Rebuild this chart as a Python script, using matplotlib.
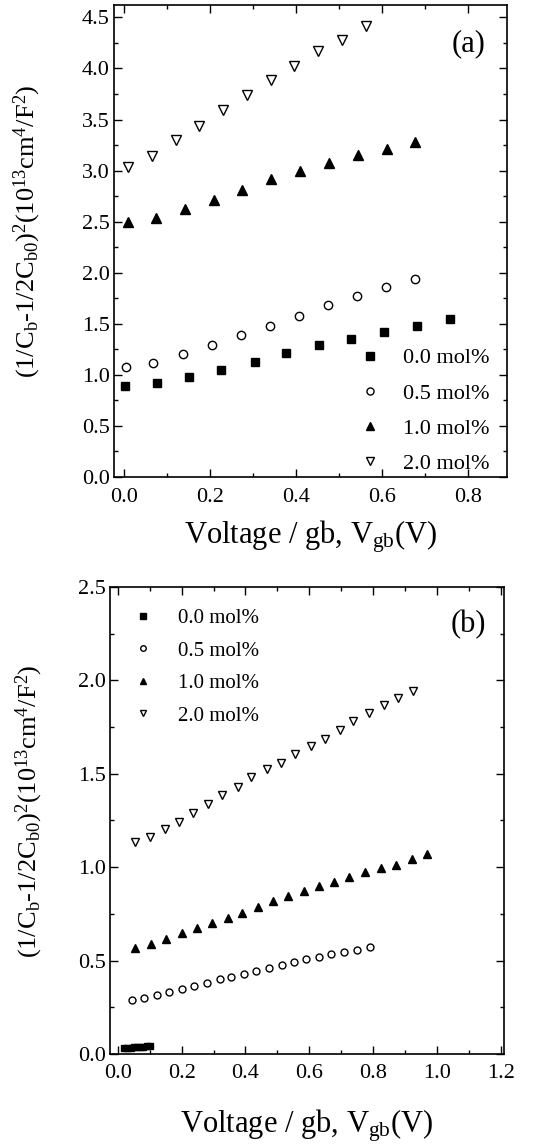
import matplotlib
matplotlib.use("Agg")
import matplotlib.pyplot as plt
from matplotlib.ticker import MultipleLocator

plt.rcParams['font.family'] = ['Liberation Serif', 'DejaVu Serif']
plt.rcParams['mathtext.fontset'] = 'custom'
plt.rcParams['mathtext.rm'] = 'Liberation Serif'
plt.rcParams['mathtext.it'] = 'Liberation Serif:italic'

labels = ['0.0 mol%', '0.5 mol%', '1.0 mol%', '2.0 mol%']

# Panel (a)
a_x0 = [0.003, 0.078, 0.152, 0.226, 0.304, 0.377, 0.454, 0.528, 0.605, 0.681, 0.757]
a_y0 = [0.89, 0.92, 0.98, 1.05, 1.13, 1.21, 1.29, 1.35, 1.42, 1.48, 1.55]
a_x05 = [0.004, 0.068, 0.137, 0.205, 0.271, 0.340, 0.407, 0.475, 0.541, 0.609, 0.677]
a_y05 = [1.08, 1.12, 1.20, 1.29, 1.39, 1.48, 1.58, 1.68, 1.77, 1.86, 1.94]
a_x1 = [0.009, 0.074, 0.142, 0.209, 0.275, 0.342, 0.409, 0.476, 0.543, 0.611, 0.677]
a_y1 = [2.50, 2.54, 2.62, 2.71, 2.81, 2.92, 3.00, 3.07, 3.15, 3.21, 3.28]
a_x2 = [0.009, 0.065, 0.120, 0.175, 0.230, 0.286, 0.342, 0.396, 0.452, 0.506, 0.563]
a_y2 = [3.04, 3.14, 3.30, 3.44, 3.59, 3.74, 3.89, 4.02, 4.17, 4.28, 4.42]

# Panel (b)
b_x0 = [0.020, 0.030, 0.040, 0.050, 0.060, 0.070, 0.080, 0.090, 0.100]
b_y0 = [0.030, 0.032, 0.034, 0.036, 0.037, 0.039, 0.040, 0.042, 0.044]
b_x05 = [0.044, 0.083, 0.122, 0.161, 0.200, 0.240, 0.279, 0.319, 0.356, 0.396,
         0.434, 0.474, 0.513, 0.552, 0.591, 0.630, 0.669, 0.710, 0.750, 0.792]
b_y05 = [0.287, 0.301, 0.316, 0.332, 0.349, 0.364, 0.381, 0.399, 0.412, 0.426,
         0.444, 0.462, 0.476, 0.492, 0.506, 0.519, 0.533, 0.545, 0.556, 0.572]
b_x1 = [0.054, 0.104, 0.150, 0.200, 0.247, 0.294, 0.344, 0.390, 0.440, 0.487,
        0.533, 0.583, 0.630, 0.679, 0.726, 0.776, 0.825, 0.872, 0.921, 0.969]
b_y1 = [0.568, 0.590, 0.617, 0.645, 0.672, 0.702, 0.729, 0.756, 0.788, 0.818,
        0.845, 0.875, 0.898, 0.921, 0.947, 0.973, 0.996, 1.014, 1.046, 1.068]
b_x2 = [0.054, 0.101, 0.148, 0.193, 0.237, 0.283, 0.325, 0.375, 0.417, 0.466,
        0.510, 0.554, 0.604, 0.648, 0.695, 0.738, 0.787, 0.833, 0.879, 0.926]
b_y2 = [1.134, 1.160, 1.205, 1.241, 1.290, 1.338, 1.389, 1.428, 1.481, 1.523,
        1.558, 1.606, 1.647, 1.686, 1.736, 1.781, 1.825, 1.866, 1.905, 1.945]

fig = plt.figure(figsize=(5.47, 11.48), dpi=100)
axa = fig.add_axes([0.2084, 0.5845, 0.7185, 0.411])
axb = fig.add_axes([0.201, 0.0819, 0.720, 0.4068])

ylab = '(1/C$_\\mathrm{b}$-1/2C$_\\mathrm{b0}$)$^2$(10$^{13}$cm$^4$/F$^2$)'
xlab = 'Voltage / gb, V$_\\mathrm{gb}$(V)'

def style(ax, xpad):
    ax.tick_params(which='both', direction='in', top=True, right=True, labelsize=16)
    ax.tick_params(axis='y', which='both', pad=3)
    ax.tick_params(axis='x', which='both', pad=xpad)
    ax.tick_params(which='major', length=6, width=1)
    ax.tick_params(which='minor', length=3, width=1)
    for s in ax.spines.values():
        s.set_linewidth(1.2)

def plot_sets(ax, data, ms):
    (x0, y0), (x05, y05), (x1, y1), (x2, y2) = data
    ax.plot(x0, y0, 's', color='black', ms=ms, ls='none', label=labels[0])
    ax.plot(x05, y05, 'o', mfc='white', mec='black', mew=1.0, ms=ms, ls='none', label=labels[1])
    ax.plot(x1, y1, '^', color='black', ms=ms + 0.5, ls='none', label=labels[2])
    ax.plot(x2, y2, 'v', mfc='white', mec='black', mew=1.0, ms=ms + 0.5, ls='none', label=labels[3])

plot_sets(axa, [(a_x0, a_y0), (a_x05, a_y05), (a_x1, a_y1), (a_x2, a_y2)], 6.0)
axa.set_xlim(-0.023, 0.89)
axa.set_ylim(0, 4.62)
axa.xaxis.set_major_locator(MultipleLocator(0.2))
axa.xaxis.set_minor_locator(MultipleLocator(0.1))
axa.yaxis.set_major_locator(MultipleLocator(0.5))
axa.yaxis.set_minor_locator(MultipleLocator(0.25))
style(axa, 8)
axa.set_xlabel(xlab, fontsize=22, labelpad=8)
axa.set_ylabel(ylab, fontsize=19)
axa.yaxis.set_label_coords(-0.18, 0.52)
axa.text(0.903, 0.918, '(a)', transform=axa.transAxes, fontsize=22, ha='center', va='center')
axa.legend(loc='lower right', bbox_to_anchor=(0.99, -0.022), frameon=False, fontsize=16,
           handletextpad=1.0, labelspacing=0.66, borderaxespad=0.2, markerscale=0.85,
           handlelength=1.0)

plot_sets(axb, [(b_x0, b_y0), (b_x05, b_y05), (b_x1, b_y1), (b_x2, b_y2)], 5.0)
axb.set_xlim(-0.025, 1.21)
axb.set_ylim(0, 2.5)
axb.xaxis.set_major_locator(MultipleLocator(0.2))
axb.xaxis.set_minor_locator(MultipleLocator(0.1))
axb.yaxis.set_major_locator(MultipleLocator(0.5))
axb.yaxis.set_minor_locator(MultipleLocator(0.25))
style(axb, 7)
axb.set_xlabel(xlab, fontsize=22, labelpad=18)
axb.set_ylabel(ylab, fontsize=19)
axb.yaxis.set_label_coords(-0.165, 0.52)
axb.text(0.909, 0.919, '(b)', transform=axb.transAxes, fontsize=22, ha='center', va='center')
axb.legend(loc='upper left', bbox_to_anchor=(0.02, 0.985), frameon=False, fontsize=15,
           handletextpad=1.2, labelspacing=0.62, borderaxespad=0.3, markerscale=0.8,
           handlelength=1.0)

fig.savefig('out.png', dpi=100)
